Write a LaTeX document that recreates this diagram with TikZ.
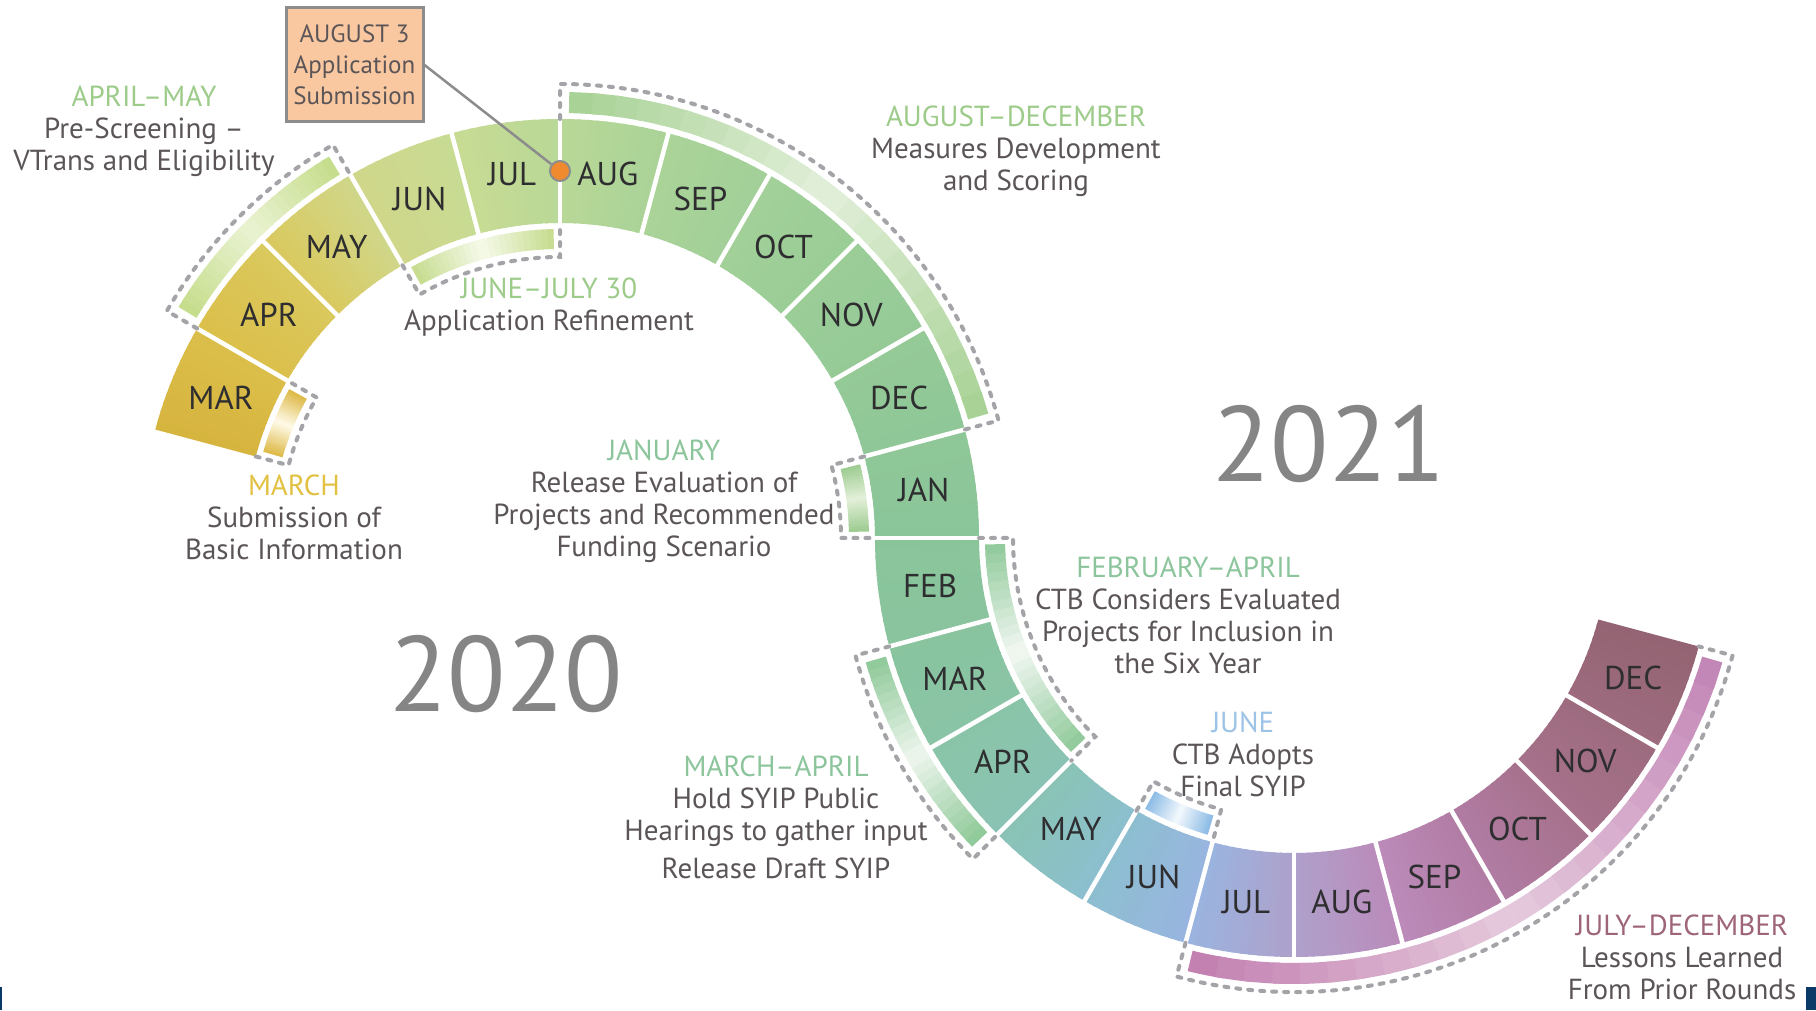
\documentclass[tikz,border=0pt]{standalone}
\usepackage{fontspec}
\setmainfont{PT Sans}
\usetikzlibrary{calc}
% band colours (upper arc boundaries)
\definecolor{U0}{HTML}{D6B43E}\definecolor{U1}{HTML}{DBBF4B}\definecolor{U2}{HTML}{DAC95E}
\definecolor{U3}{HTML}{D0D78A}\definecolor{U4}{HTML}{C8DB93}\definecolor{U5}{HTML}{B9D897}
\definecolor{U6}{HTML}{AAD398}\definecolor{U7}{HTML}{A2D098}\definecolor{U8}{HTML}{9BCD97}
\definecolor{U9}{HTML}{95CA97}\definecolor{U10}{HTML}{8FC798}\definecolor{U11}{HTML}{8AC59A}
% lower arc boundaries
\definecolor{L0}{HTML}{8AC59A}\definecolor{L1}{HTML}{89C49F}\definecolor{L2}{HTML}{8AC4A7}
\definecolor{L3}{HTML}{8AC3B4}\definecolor{L4}{HTML}{8CBFCF}\definecolor{L5}{HTML}{99B5E0}
\definecolor{L6}{HTML}{AEA1CB}\definecolor{L7}{HTML}{BB8BBA}\definecolor{L8}{HTML}{B27CA4}
\definecolor{L9}{HTML}{A6728C}\definecolor{L10}{HTML}{9D6B7E}\definecolor{L11}{HTML}{946473}
% strip colours
\definecolor{sAM}{HTML}{C5DC8A}\definecolor{sAMm}{HTML}{EAF3D2}
\definecolor{sMA}{HTML}{DDB843}\definecolor{sMAm}{HTML}{FFFBEA}
\definecolor{sJJ}{HTML}{C6DC8E}\definecolor{sJJm}{HTML}{F6FAEA}
\definecolor{sAD}{HTML}{A6D193}\definecolor{sADm}{HTML}{E2EFDA}
\definecolor{sJA}{HTML}{9CCB8F}\definecolor{sJAm}{HTML}{E3F0DA}
\definecolor{sFA}{HTML}{8FC99A}\definecolor{sFAm}{HTML}{F2F8F2}
\definecolor{sMR}{HTML}{8DC897}\definecolor{sMRm}{HTML}{EEF6EE}
\definecolor{sJU}{HTML}{8BBBE5}\definecolor{sJUm}{HTML}{F3F8FD}
\definecolor{sJDa}{HTML}{C17EAF}\definecolor{sJDm}{HTML}{E6CADD}\definecolor{sJDb}{HTML}{C284B5}
% text colours
\definecolor{txtgray}{HTML}{5B5557}
\definecolor{mongray}{HTML}{2E2E30}
\definecolor{yeargray}{HTML}{858585}
\definecolor{dashgray}{HTML}{A3A3A8}
\definecolor{boxgray}{HTML}{8C8C8C}
\definecolor{peach}{HTML}{F9C8A0}
\definecolor{dotorange}{HTML}{F08A2E}
\definecolor{tgreen}{HTML}{9DCB8A}
\definecolor{tteal}{HTML}{8CC59C}
\definecolor{tgold}{HTML}{E2C040}
\definecolor{tblue}{HTML}{9DC3E6}
\definecolor{tmauve}{HTML}{9E6578}
\definecolor{navy}{HTML}{0B3A66}

\newcommand\gsec[6]{%
  \foreach \i in {0,...,11}{%
    \pgfmathsetmacro\gsA{#1+(#2-#1)*\i/12}%
    \pgfmathsetmacro\gsB{#1+(#2-#1)*min(\i+1.3,12)/12}%
    \pgfmathtruncatemacro\gsP{round(100*(\i+0.5)/12)}%
    \fill[#6!\gsP!#5] (\gsA:#3) arc[start angle=\gsA, end angle=\gsB, radius=#3]
      -- (\gsB:#4) arc[start angle=\gsB, end angle=\gsA, radius=#4] -- cycle;
  }%
}
\newcommand\gstrip[7]{%
  \pgfmathsetmacro\gsM{(#1+#2)/2}%
  \gsec{#1}{\gsM}{#3}{#4}{#5}{#6}%
  \pgfmathsetmacro\gsM{(#1+#2)/2}%
  \gsec{\gsM}{#2}{#3}{#4}{#6}{#7}%
}
\newcommand\dbrack[4]{%
  \draw[dsh] (#1:#3) -- (#1:#4) arc[start angle=#1, end angle=#2, radius=#4] -- (#2:#3);
}

\begin{document}
\begin{tikzpicture}[x=1pt,y=1pt,
  body/.style={font=\fontsize{29}{32}\selectfont, text=txtgray, align=center, inner sep=0pt},
  mon/.style={font=\fontsize{33}{33}\selectfont, text=mongray, inner sep=0pt},
  year/.style={font=\fontsize{107}{107}\selectfont, text=yeargray, inner sep=0pt},
  dsh/.style={draw=dashgray, line width=4pt, dash pattern=on 4pt off 8pt, line cap=round},
  sep/.style={draw=white, line width=4.5pt},
  datebox/.style={draw=boxgray, line width=3pt, fill=peach, minimum width=137pt, minimum height=114pt,
    align=center, font=\fontsize{25}{31}\selectfont, text=txtgray, inner sep=0pt},
  conn/.style={draw=boxgray, line width=2.5pt},
  dotst/.style={circle, fill=dotorange, draw=boxgray, line width=2pt, minimum size=20pt, inner sep=0pt}]
\useasboundingbox (0,0) rectangle (1816,1010);
\fill[white] (0,0) rectangle (1816,1010);
\fill[navy] (1806,0) rectangle (1816,23);
\fill[navy] (0,0) rectangle (2,23);

% ---------- upper arc (2020) ----------
\begin{scope}[shift={(560,472)}]
  \gsec{165}{150}{315}{419}{U0}{U1}
  \gsec{150}{135}{315}{419}{U1}{U2}
  \gsec{135}{120}{315}{419}{U2}{U3}
  \gsec{120}{105}{315}{419}{U3}{U4}
  \gsec{105}{90}{315}{419}{U4}{U5}
  \gsec{90}{75}{315}{419}{U5}{U6}
  \gsec{75}{60}{315}{419}{U6}{U7}
  \gsec{60}{45}{315}{419}{U7}{U8}
  \gsec{45}{30}{315}{419}{U8}{U9}
  \gsec{30}{15}{315}{419}{U9}{U10}
  \gsec{15}{0}{315}{419}{U10}{U11}
  \foreach \a in {150,135,...,0} \draw[sep] (\a:312) -- (\a:422);
  % strips
  \gstrip{148.8}{121.2}{425}{446}{sAM}{sAMm}{sAM}
  \dbrack{150}{120}{419}{454}
  \gstrip{163.8}{151.2}{289}{309}{sMA}{sMAm}{sMA}
  \dbrack{165}{150}{315}{281}
  \gstrip{118.8}{91.2}{289}{309}{sJJ}{sJJm}{sJJ}
  \dbrack{120}{90}{315}{281}
  \gstrip{88.8}{16.2}{425}{446}{sAD}{sADm}{sAD}
  \dbrack{90}{15}{419}{454}
  \gstrip{13.8}{1.2}{289}{309}{sJA}{sJAm}{sJA}
  \dbrack{15}{0}{315}{281}
  % month labels
  \node[mon] (uMAR) at (157.5:367) {MAR};
  \node[mon] (uAPR) at (142.5:367) {APR};
  \node[mon] (uMAY) at (127.5:367) {MAY};
  \node[mon] (uJUN) at (112.5:367) {JUN};
  \node[mon] (uJUL) at (97.5:367) {JUL};
  \node[mon] (uAUG) at (82.5:367) {AUG};
  \node[mon] (uSEP) at (67.5:367) {SEP};
  \node[mon] (uOCT) at (52.5:367) {OCT};
  \node[mon] (uNOV) at (37.5:367) {NOV};
  \node[mon] (uDEC) at (22.5:367) {DEC};
  \node[mon] (uJAN) at (7.5:367) {JAN};
  \node[dotst] (dot) at (90:367) {};
\end{scope}

% ---------- lower arc (2021) ----------
\begin{scope}[shift={(1294,472)}]
  \gsec{180}{195}{315}{419}{L0}{L1}
  \gsec{195}{210}{315}{419}{L1}{L2}
  \gsec{210}{225}{315}{419}{L2}{L3}
  \gsec{225}{240}{315}{419}{L3}{L4}
  \gsec{240}{255}{315}{419}{L4}{L5}
  \gsec{255}{270}{315}{419}{L5}{L6}
  \gsec{270}{285}{315}{419}{L6}{L7}
  \gsec{285}{300}{315}{419}{L7}{L8}
  \gsec{300}{315}{315}{419}{L8}{L9}
  \gsec{315}{330}{315}{419}{L9}{L10}
  \gsec{330}{345}{315}{419}{L10}{L11}
  \foreach \a in {195,210,...,330} \draw[sep] (\a:312) -- (\a:422);
  \draw[sep] (180:312) -- (180:422);
  % strips
  \gstrip{181.2}{223.8}{289}{309}{sFA}{sFAm}{sFA}
  \dbrack{180}{225}{315}{281}
  \gstrip{196.2}{223.8}{425}{446}{sMR}{sMRm}{sMR}
  \dbrack{195}{225}{419}{454}
  \gstrip{241.2}{253.8}{289}{309}{sJU}{sJUm}{sJU}
  \dbrack{240}{255}{315}{281}
  \gstrip{256.2}{343.8}{425}{446}{sJDa}{sJDm}{sJDb}
  \dbrack{255}{345}{419}{454}
  % month labels
  \node[mon] (lFEB) at (187.5:367) {FEB};
  \node[mon] (lMAR) at (202.5:367) {MAR};
  \node[mon] (lAPR) at (217.5:367) {APR};
  \node[mon] (lMAY) at (232.5:367) {MAY};
  \node[mon] (lJUN) at (247.5:367) {JUN};
  \node[mon] (lJUL) at (262.5:367) {JUL};
  \node[mon] (lAUG) at (277.5:367) {AUG};
  \node[mon] (lSEP) at (292.5:367) {SEP};
  \node[mon] (lOCT) at (307.5:367) {OCT};
  \node[mon] (lNOV) at (322.5:367) {NOV};
  \node[mon] (lDEC) at (337.5:367) {DEC};
\end{scope}

% ---------- callout box ----------
\node[datebox] (aug3) at (354.5,945) {AUGUST 3\\Application\\Submission};
\draw[conn] (aug3.east) -- (dot);

% ---------- years ----------
\node[year] (y2021) at (1329,566) {2021};
\node[year] (y2020) at (506,336) {2020};

% ---------- annotations ----------
\node[body] (tAM) at (144,879) {{\color{tgreen}APRIL–MAY}\\Pre-Screening –\\VTrans and Eligibility};
\node[body] (tAD) at (1016,859) {{\color{tgreen}AUGUST–DECEMBER}\\Measures Development\\and Scoring};
\node[body] (tJJ) at (549,703) {{\color{tgreen}JUNE–JULY 30}\\Application Refinement};
\node[body] (tMA) at (294,493) {{\color{tgold}MARCH}\\Submission of\\Basic Information};
\node[body] (tJA) at (664,509) {{\color{tteal}JANUARY}\\Release Evaluation of\\Projects and Recommended\\Funding Scenario};
\node[body] (tFA) at (1188,395) {{\color{tteal}FEBRUARY–APRIL}\\CTB Considers Evaluated\\Projects for Inclusion in\\the Six Year};
\node[body] (tJU) at (1243,256) {{\color{tblue}JUNE}\\CTB Adopts\\Final SYIP};
\node[body] (tMR) at (776,193) {{\color{tteal}MARCH–APRIL}\\Hold SYIP Public\\Hearings to gather input\\[6pt]Release Draft SYIP};
\node[body] (tJD) at (1682,53) {{\color{tmauve}JULY–DECEMBER}\\Lessons Learned\\From Prior Rounds};
\end{tikzpicture}
\end{document}
